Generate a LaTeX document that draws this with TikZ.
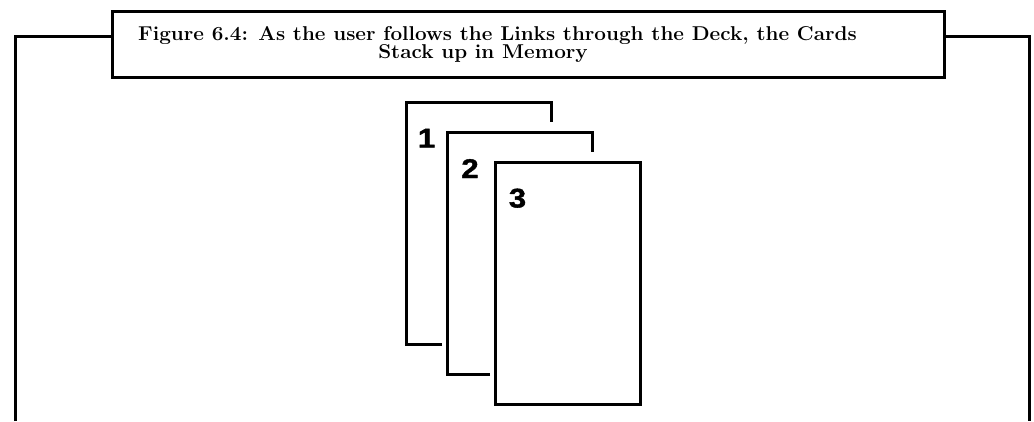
\documentclass[tikz,border=0pt]{standalone}
\usepackage{fontspec}
\newfontfamily\numfont[BoldFeatures={FakeBold=1.5}]{Liberation Sans}
\begin{document}
\begin{tikzpicture}[x=1pt,y=-1pt,
  frameline/.style={line width=3pt,line cap=butt,line join=miter},
  cardline/.style={line width=3.2pt,line cap=butt,line join=miter},
  cardnum/.style={font=\numfont\bfseries\fontsize{27}{28}\selectfont,inner sep=0pt,xscale=1.15},
  captionline/.style={font=\bfseries\fontsize{20}{21}\selectfont,inner sep=0pt,xscale=1.035}]
\useasboundingbox (0,0) rectangle (1034,421);
% outer frame
\draw[frameline] (15,421) -- (15,36.7) -- (112,36.7);
\draw[frameline] (944,36.7) -- (1029,36.7) -- (1029,421);
% title box
\draw[frameline,fill=white] (112,11) rectangle (944,77.5);
\node[captionline,anchor=base west] (cap1) at (138,40.5)
  {Figure 6.4: As the user follows the Links through the Deck, the Cards};
\node[captionline,anchor=base] (cap2) at (483,58.5) {Stack up in Memory};
% cards
\draw[cardline] (442,344.3) -- (406.5,344.3) -- (406.5,102.5) -- (551.8,102.5) -- (551.8,122);
\draw[cardline] (490,374.8) -- (447.8,374.8) -- (447.8,132.2) -- (592.5,132.2) -- (592.5,152.3);
\draw[cardline] (495.8,162.2) rectangle (640.8,404.2);
\node[cardnum,anchor=base] (n1) at (426.5,147.5) {1};
\node[cardnum,anchor=base] (n2) at (470,178) {2};
\node[cardnum,anchor=base] (n3) at (517.5,207.5) {3};
\end{tikzpicture}
\end{document}
